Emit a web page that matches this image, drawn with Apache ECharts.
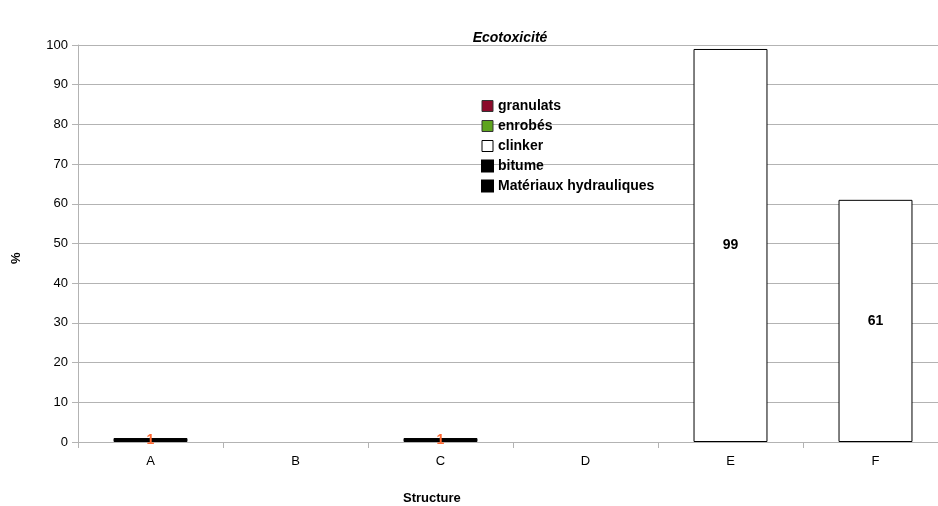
<!DOCTYPE html>
<html><head><meta charset="utf-8">
<script src="https://cdn.jsdelivr.net/npm/echarts@6/dist/echarts.min.js"></script>
<style>html,body{margin:0;padding:0;background:#fff;overflow:hidden}#c{width:948px;height:506px}</style>
</head><body><div id="c"></div>
<script>
const categories = ['A','B','C','D','E','F'];
const granulats = [null,null,null,null,null,null];
const enrobes = [null,null,null,null,null,null];
const clinker = [null,null,null,null,99,61];
const bitume = [1,null,1,null,null,null];
const hydrauliques = [null,null,null,null,null,null];
const yTicks = [0,10,20,30,40,50,60,70,80,90,100];

const font = 'Liberation Sans, Arial, sans-serif';
function ser(name, data, color, border, labelColor){
  return {
    name, type:'bar', stack:'s', data, barWidth:'51%',
    itemStyle:{color, borderColor:border, borderWidth:1},
    label:{show:true, position:'inside', color:labelColor, fontWeight:'bold', fontSize:14, fontFamily:font,
      formatter:p=>p.value==null?'':String(p.value)},
    emphasis:{disabled:true}
  };
}
const chart = echarts.init(document.getElementById('c'));
chart.setOption({
  animation:false,
  title:{text:'Ecotoxicité', left:505, top:26, textAlign:'center',
    textStyle:{fontFamily:font, fontSize:14, fontWeight:'bold', fontStyle:'italic', color:'#000'}},
  grid:{left:78, top:45, right:0, bottom:64, containLabel:false},
  legend:{orient:'vertical', left:476, top:94, itemWidth:11, itemHeight:11, itemGap:6, icon:'rect',
    textStyle:{fontFamily:font, fontSize:14, fontWeight:'bold', color:'#000'},
    data:[
      {name:'granulats', itemStyle:{color:'#8b0a2b', borderColor:'#333', borderWidth:1}},
      {name:'enrobés', itemStyle:{color:'#5ea41e', borderColor:'#333', borderWidth:1}},
      {name:'clinker', itemStyle:{color:'#fff', borderColor:'#000', borderWidth:1}},
      {name:'bitume', itemStyle:{color:'#000'}},
      {name:'Matériaux hydrauliques', itemStyle:{color:'#000'}}
    ]},
  xAxis:{type:'category', data:categories,
    axisLine:{lineStyle:{color:'#b3b3b3'}},
    axisTick:{show:true, length:6, lineStyle:{color:'#b3b3b3'}, alignWithLabel:false},
    axisLabel:{fontFamily:font, fontSize:13, color:'#000', margin:13}},
  yAxis:{type:'value', min:0, max:100, interval:10,
    axisLine:{show:true, lineStyle:{color:'#b3b3b3'}},
    axisTick:{show:true, length:6, lineStyle:{color:'#b3b3b3'}},
    splitLine:{lineStyle:{color:'#b3b3b3'}},
    axisLabel:{fontFamily:font, fontSize:13, color:'#000', margin:10,
      formatter:v=>yTicks.includes(v)?String(v):''}},
  graphic:[
    {type:'text', left:403, top:492, style:{text:'Structure', fontFamily:font, fontSize:13, fontWeight:'bold', fill:'#000'}},
    {type:'text', x:10, y:264, rotation:Math.PI/2, style:{text:'%', fontFamily:font, fontSize:13, fontWeight:'bold', fill:'#000'}}
  ],
  series:[
    ser('granulats', granulats, '#8b0a2b', '#333', '#000'),
    ser('enrobés', enrobes, '#5ea41e', '#333', '#000'),
    ser('clinker', clinker, '#fff', '#000', '#000'),
    ser('bitume', bitume, '#000', '#000', '#ff6a33'),
    ser('Matériaux hydrauliques', hydrauliques, '#000', '#000', '#ff6a33')
  ]
});
</script></body></html>
